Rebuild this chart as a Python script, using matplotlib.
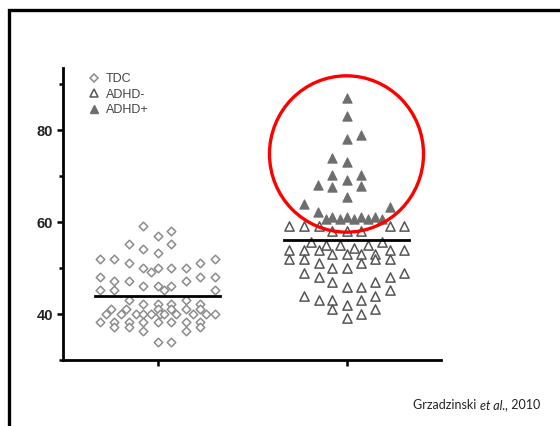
import matplotlib
matplotlib.use("Agg")
import matplotlib.pyplot as plt
from matplotlib.lines import Line2D
from matplotlib.patches import Ellipse
from matplotlib.ticker import MultipleLocator

plt.rcParams["font.family"] = ["Liberation Sans", "DejaVu Sans"]

# --- data (group position 1 = TDC, 2 = ADHD) ---
tdc_off = [-0.078, 0.0, 0.072, -0.152, -0.078, 0.072, 0.0,
           -0.303, -0.228, -0.152, -0.078, -0.037, 0.0, 0.072, 0.152, 0.226, 0.302,
           -0.303, -0.228, -0.152, -0.078, 0.0, 0.037, 0.072, 0.152, 0.226, 0.302,
           -0.303, -0.228, 0.302,
           -0.152, -0.078, 0.0, 0.072, 0.152, 0.226,
           -0.245, -0.272, -0.192, -0.166, -0.113, -0.078, -0.034, 0.0, 0.011, 0.037,
           0.072, 0.099, 0.152, 0.187, 0.226, 0.258, 0.302,
           -0.303, -0.228, -0.152, -0.078, 0.0, 0.072, 0.152, 0.226,
           -0.228, -0.152, -0.078, 0.152, 0.226,
           0.0, 0.072]
tdc_val = [59.1, 57.0, 58.0, 55.2, 54.1, 55.2, 53.2,
           52.0, 52.0, 51.0, 50.1, 49.1, 50.1, 50.1, 50.1, 51.0, 52.0,
           48.1, 47.2, 47.2, 46.1, 46.1, 45.2, 46.1, 47.2, 48.1, 48.1,
           45.2, 45.2, 45.2,
           43.0, 42.1, 42.1, 42.1, 43.0, 42.1,
           41.1, 40.0, 40.0, 41.1, 40.0, 40.0, 40.0, 41.1, 40.0, 40.0,
           41.1, 40.0, 41.1, 40.0, 41.1, 40.0, 40.0,
           38.2, 38.2, 38.2, 38.2, 38.2, 38.2, 38.2, 38.2,
           37.1, 37.1, 36.2, 36.2, 37.1,
           34.0, 34.0]

neg_off = [-0.302, -0.226, -0.146, 0.228, 0.302,
           -0.076, 0.0, 0.078,
           -0.187, -0.111, -0.037, 0.039, 0.113, 0.189,
           -0.302, -0.226, -0.146, -0.076, 0.0, 0.078, 0.153, 0.228, 0.302,
           -0.302, -0.226, -0.146, -0.076, 0.0, 0.078, 0.153, 0.228,
           -0.226, -0.146, -0.076, 0.0, 0.078, 0.153, 0.228, 0.302,
           0.228,
           -0.226, -0.146, -0.076, 0.0, 0.078, 0.153,
           -0.076, 0.078, 0.153,
           0.0]
neg_val = [59.1, 59.1, 59.1, 59.1, 59.1,
           58.1, 58.1, 58.1,
           55.7, 55.1, 55.1, 54.3, 55.1, 55.7,
           53.9, 53.9, 53.9, 53.0, 53.0, 53.0, 53.0, 53.9, 53.9,
           51.9, 51.9, 51.0, 49.9, 49.9, 51.0, 51.9, 51.9,
           49.0, 48.1, 47.0, 45.9, 45.9, 47.0, 48.1, 49.0,
           45.2,
           43.9, 43.0, 43.0, 42.0, 43.0, 43.9,
           41.0, 40.0, 41.0,
           39.1]

pos_off = [0.0, 0.0, 0.0, 0.078, -0.076, 0.0,
           -0.076, 0.078, 0.0, -0.152, -0.076, 0.078,
           0.0, -0.226, 0.228,
           -0.152, -0.076, 0.0, 0.078, 0.153,
           -0.111, -0.037, 0.039, 0.113, 0.189]
pos_val = [86.9, 83.0, 78.0, 78.9, 74.0, 73.1,
           70.2, 70.2, 69.1, 68.0, 67.7, 67.8,
           65.4, 63.9, 63.3,
           62.1, 61.2, 61.2, 61.2, 61.2,
           60.6, 60.6, 60.6, 60.6, 60.6]

group_pos = [1, 2]
group_mean = [44.0, 56.2]
labels = ["TDC", "ADHD-", "ADHD+"]
citation = ["Grzadzinski ", "et al.,", " 2010"]

W, H = 560, 426
fig = plt.figure(figsize=(W / 100, H / 100), dpi=100)

# slide frame (left and top black bars, one polyline so the corner is clean)
fig.add_artist(Line2D([9 / W, 9 / W, 1.0], [0.0, 1 - 10 / H, 1 - 10 / H],
                      color="black", lw=2.4, solid_joinstyle="miter",
                      solid_capstyle="butt"))

ax = fig.add_axes([63 / W, 66 / H, 378 / W, 292 / H])
ax.set_xlim(0.5, 2.5)
ax.set_ylim(30, 93.5)

ax.scatter([group_pos[0] + o for o in tdc_off], tdc_val, marker="D", s=19,
           facecolors="white", edgecolors="#8c8c8c", linewidths=1.1, zorder=3)
ax.scatter([group_pos[1] + o for o in neg_off], neg_val, marker="^", s=44,
           facecolors="white", edgecolors="#555555", linewidths=1.1, zorder=3)
ax.scatter([group_pos[1] + o for o in pos_off], pos_val, marker="^", s=44,
           facecolors="#6e6e6e", edgecolors="#6e6e6e", linewidths=0.8, zorder=4)

for x, m in zip(group_pos, group_mean):
    ax.plot([x - 0.333, x + 0.333], [m, m], color="black", lw=2, zorder=5)

for side in ("top", "right"):
    ax.spines[side].set_visible(False)
for side in ("left", "bottom"):
    ax.spines[side].set_linewidth(2)
ax.set_xticks(group_pos)
ax.set_xticklabels([])
ax.yaxis.set_major_locator(MultipleLocator(20))
ax.yaxis.set_minor_locator(MultipleLocator(10))
ax.set_yticks([40, 60, 80])
ax.set_yticklabels(["40", "60", "80"], fontweight="bold", fontsize=10.5,
                   color="#222222")
ax.tick_params(axis="both", which="major", direction="out", length=4, width=1.8,
               pad=3)
ax.tick_params(axis="y", which="minor", direction="out", length=3, width=1.8)

handles = [
    Line2D([], [], ls="none", marker="D", ms=4.3, mfc="white", mec="#8c8c8c", mew=1.1),
    Line2D([], [], ls="none", marker="^", ms=6, mfc="white", mec="#555555", mew=1.1),
    Line2D([], [], ls="none", marker="^", ms=6, mfc="#6e6e6e", mec="#6e6e6e"),
]
leg = ax.legend(handles, labels, loc="upper left", bbox_to_anchor=(0.055, 1.0),
                frameon=False, handlelength=0.8, handletextpad=0.55,
                labelspacing=0.28, borderaxespad=0.0, prop={"size": 9})
for t in leg.get_texts():
    t.set_color("#444444")

# annotation circle around ADHD+ cluster
ax.add_patch(Ellipse((2.0, 74.8), 0.815, 34.0, fill=False, edgecolor="#ff0000",
                     lw=2.4, clip_on=False, zorder=6))

# citation, italic middle part
fig.canvas.draw()
r = fig.canvas.get_renderer()
x0 = 413
for part, style in zip(citation, ["normal", "italic", "normal"]):
    t = fig.text(x0 / W, 1 - 409 / H, part, fontsize=9, fontfamily="Lato",
                 fontstyle=style, color="#222222", ha="left", va="baseline")
    x0 = t.get_window_extent(r).x1

fig.savefig("out.png", dpi=100)
